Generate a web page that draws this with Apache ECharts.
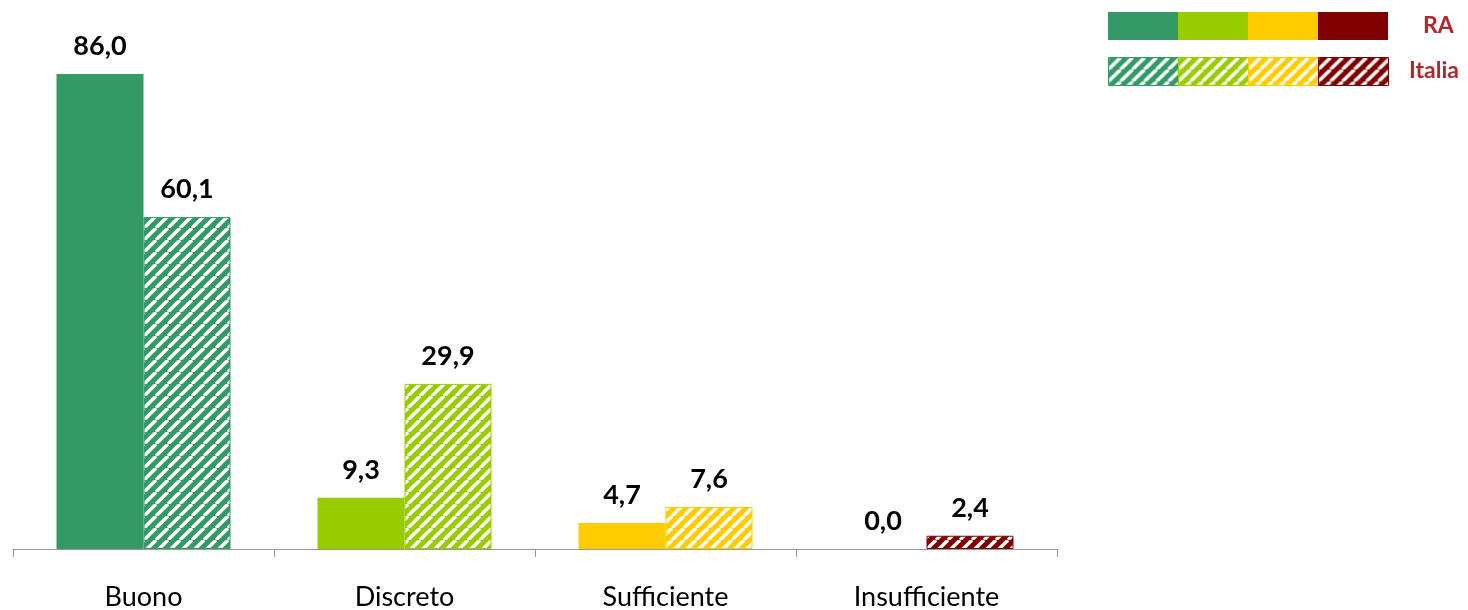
<!DOCTYPE html>
<html>
<head>
<meta charset="utf-8">
<script src="https://cdn.jsdelivr.net/npm/echarts@6/dist/echarts.min.js"></script>
<style>html,body{margin:0;padding:0;background:#fff}#c{width:1468px;height:610px}</style>
</head>
<body>
<div id="c"></div>
<script>
var categories = ['Buono', 'Discreto', 'Sufficiente', 'Insufficiente'];
var raValues = [86.0, 9.3, 4.7, 0.0];
var italiaValues = [60.1, 29.9, 7.6, 2.4];
var categoryColors = ['#339966', '#99CC00', '#FFCC00', '#800000'];
var seriesNames = ['RA', 'Italia'];

function hatch(color) {
  var s = 12;
  var c = document.createElement('canvas');
  c.width = s; c.height = s;
  var g = c.getContext('2d');
  g.fillStyle = color;
  g.fillRect(0, 0, s, s);
  g.strokeStyle = '#ffffff';
  g.lineWidth = 3.4;
  for (var k = -1; k <= 1; k++) {
    g.beginPath();
    g.moveTo(k * s, s);
    g.lineTo(k * s + s, 0);
    g.stroke();
  }
  return { image: c, repeat: 'repeat' };
}

var FONT = 'Lato';
var chart = echarts.init(document.getElementById('c'));

var labelStyle = {
  show: true, position: 'top', distance: 14,
  fontFamily: FONT, fontWeight: 'bold', fontSize: 27, color: '#000',
  formatter: function (p) { return p.value.toFixed(1).replace('.', ','); }
};

var legendGraphics = [];
var lx = 1108, lw = 70;
categoryColors.forEach(function (col, i) {
  legendGraphics.push({ type: 'rect', left: lx + i * lw, top: 12, shape: { width: lw, height: 28 }, style: { fill: col } });
  legendGraphics.push({ type: 'rect', left: lx + i * lw, top: 57, shape: { width: lw, height: 28 }, style: { fill: hatch(col), stroke: col, lineWidth: 1 } });
});
legendGraphics.push({ type: 'text', left: 1423, top: 14, style: { text: seriesNames[0], fontFamily: FONT, fontWeight: 'bold', fontSize: 23, fill: '#B3262B' } });
legendGraphics.push({ type: 'text', left: 1409, top: 59, style: { text: seriesNames[1], fontFamily: FONT, fontWeight: 'bold', fontSize: 23, fill: '#B3262B' } });

chart.setOption({
  animation: false,
  grid: { left: 13, right: 411, top: 52, bottom: 61, outerBoundsMode: 'none', containLabel: false },
  xAxis: {
    type: 'category', data: categories,
    axisLine: { lineStyle: { color: '#999', width: 1 } },
    axisTick: { show: true, length: 8, lineStyle: { color: '#999' } },
    axisLabel: { fontFamily: FONT, fontSize: 27, color: '#000', margin: 35 }
  },
  yAxis: { type: 'value', min: 0, max: 90, show: false, splitLine: { show: false } },
  series: [
    {
      name: seriesNames[0], type: 'bar', barWidth: 87, barGap: '0%',
      data: raValues.map(function (v, i) { return { value: v, itemStyle: { color: categoryColors[i] } }; }),
      label: labelStyle
    },
    {
      name: seriesNames[1], type: 'bar', barWidth: 87, barGap: '0%',
      data: italiaValues.map(function (v, i) { return { value: v, itemStyle: { color: hatch(categoryColors[i]), borderColor: categoryColors[i], borderWidth: 1 } }; }),
      label: labelStyle
    }
  ],
  graphic: legendGraphics
});
</script>
</body>
</html>
